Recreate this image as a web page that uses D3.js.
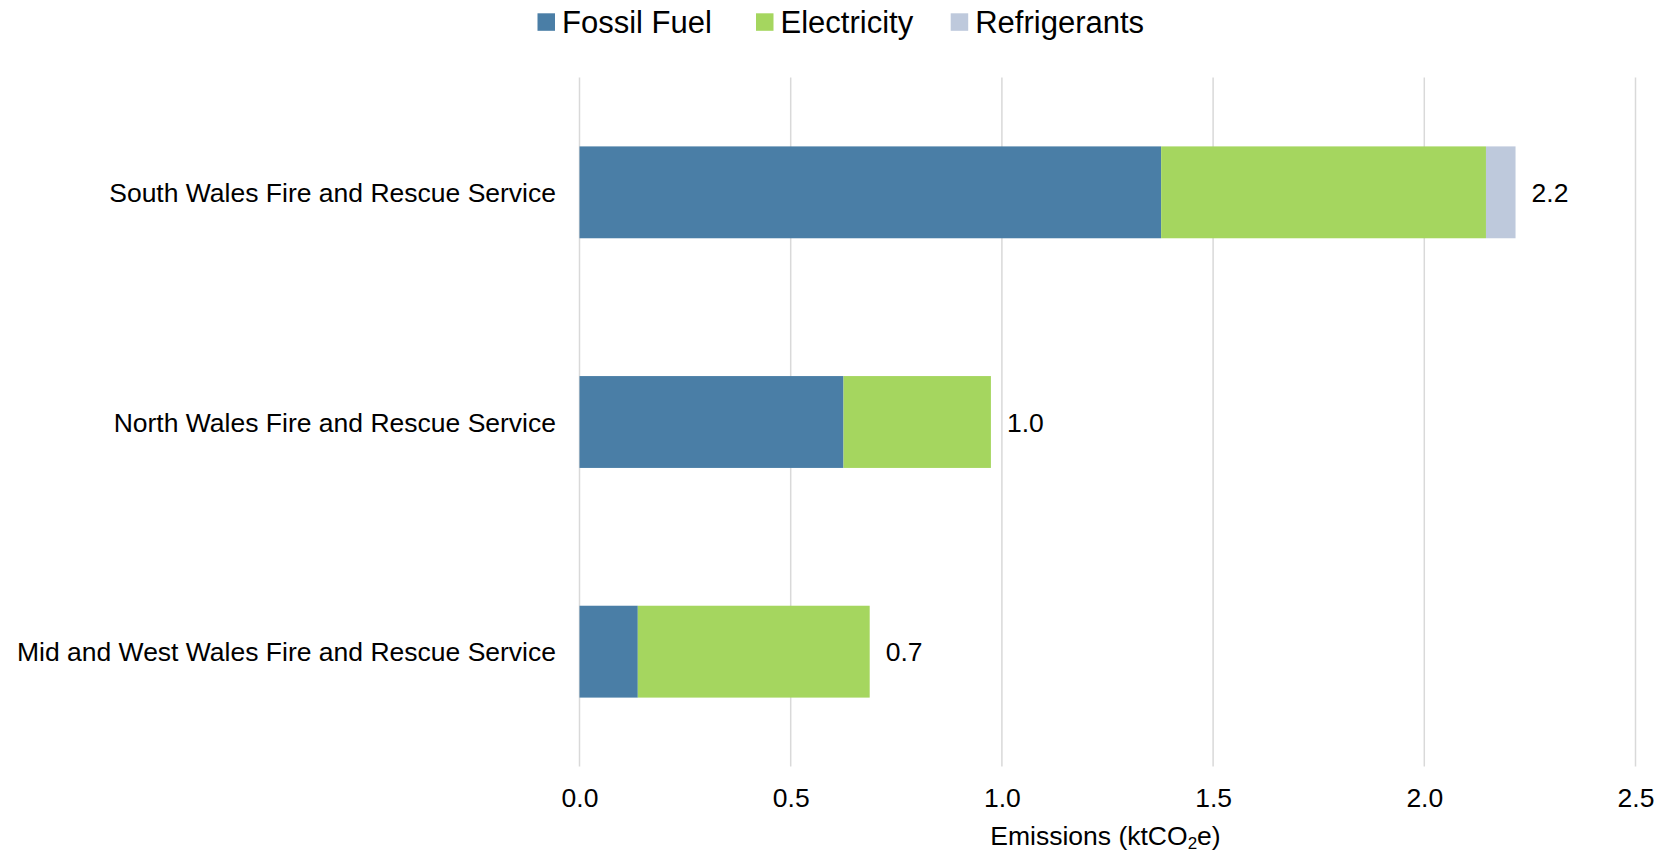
<!DOCTYPE html>
<html>
<head>
<meta charset="utf-8">
<script src="https://cdn.jsdelivr.net/npm/d3@7"></script>
<style>
  html, body { margin: 0; padding: 0; background: #ffffff; }
  svg { display: block; font-family: "Liberation Sans", Arial, sans-serif; }
</style>
</head>
<body>
<svg id="chart" width="1660" height="852"></svg>
<script>
// ---- data ----
const categories = [
  "South Wales Fire and Rescue Service",
  "North Wales Fire and Rescue Service",
  "Mid and West Wales Fire and Rescue Service"
];
const seriesNames = ["Fossil Fuel", "Electricity", "Refrigerants"];
const fossilFuel   = [1.377, 0.625, 0.138];
const electricity  = [0.769, 0.349, 0.549];
const refrigerants = [0.070, 0.000, 0.000];
const totalLabels  = ["2.2", "1.0", "0.7"];
const xTicks = [0, 0.5, 1.0, 1.5, 2.0, 2.5];
const colors = ["#4A7EA6", "#A5D65F", "#BEC9DC"];

// ---- layout ----
const svg = d3.select("#chart");
const x = d3.scaleLinear().domain([0, 2.5]).range([579.5, 1635.5]);
const y = d3.scaleBand().domain(categories).range([77.5, 766.5])
  .paddingInner(0.6).paddingOuter(0.3);

// gridlines
svg.append("g").selectAll("line").data(xTicks).join("line")
  .attr("x1", d => x(d)).attr("x2", d => x(d))
  .attr("y1", 77.5).attr("y2", 766.5)
  .attr("stroke", "#D9D9D9").attr("stroke-width", 1.5);

// stacked bars
const rows = categories.map((c, i) => ({
  cat: c, "Fossil Fuel": fossilFuel[i], "Electricity": electricity[i], "Refrigerants": refrigerants[i]
}));
const stack = d3.stack().keys(seriesNames)(rows);
svg.append("g").selectAll("g").data(stack).join("g")
  .attr("fill", (d, i) => colors[i])
  .selectAll("rect").data(d => d).join("rect")
  .attr("x", d => x(d[0]))
  .attr("width", d => Math.max(0, x(d[1]) - x(d[0])))
  .attr("y", d => y(d.data.cat))
  .attr("height", y.bandwidth());

// total labels
svg.append("g").selectAll("text").data(categories).join("text")
  .attr("x", (c, i) => x(fossilFuel[i] + electricity[i] + refrigerants[i]) + 16)
  .attr("y", c => y(c) + y.bandwidth() / 2 + 9.5)
  .attr("font-size", 26.5).attr("fill", "#000")
  .text((c, i) => totalLabels[i]);

// category axis labels
const yAxis = d3.axisLeft(y).tickSize(0).tickPadding(0);
const gy = svg.append("g").attr("transform", "translate(556,0)").call(yAxis);
gy.select(".domain").remove();
gy.selectAll("text").attr("font-size", 26.5).attr("fill", "#000")
  .attr("font-family", "Liberation Sans, Arial, sans-serif")
  .attr("dy", null).attr("y", 9.5);

// x axis tick labels
const xAxis = d3.axisBottom(x).tickValues(xTicks).tickFormat(d3.format(".1f")).tickSize(0).tickPadding(0);
const gx = svg.append("g").attr("transform", "translate(0,807)").call(xAxis);
gx.select(".domain").remove();
gx.selectAll("text").attr("font-size", 26.5).attr("fill", "#000")
  .attr("font-family", "Liberation Sans, Arial, sans-serif")
  .attr("dy", null).attr("y", 0);

// axis title
const title = svg.append("text")
  .attr("x", (x.range()[0] + x.range()[1]) / 2 - 2).attr("y", 845)
  .attr("text-anchor", "middle").attr("font-size", 26.5).attr("fill", "#000");
title.append("tspan").text("Emissions (ktCO");
title.append("tspan").attr("font-size", 17).attr("dy", 4).text("2");
title.append("tspan").attr("dy", -4).text("e)");

// legend
const legendX = [537.5, 756, 950.7];
const lg = svg.append("g").selectAll("g").data(seriesNames).join("g")
  .attr("transform", (d, i) => `translate(${legendX[i]},0)`);
lg.append("rect").attr("x", 0).attr("y", 13.3).attr("width", 17.5).attr("height", 17.5)
  .attr("fill", (d, i) => colors[i]);
lg.append("text").attr("x", 24.5).attr("y", 33.3).attr("font-size", 31).attr("fill", "#000")
  .text(d => d);
</script>
</body>
</html>
